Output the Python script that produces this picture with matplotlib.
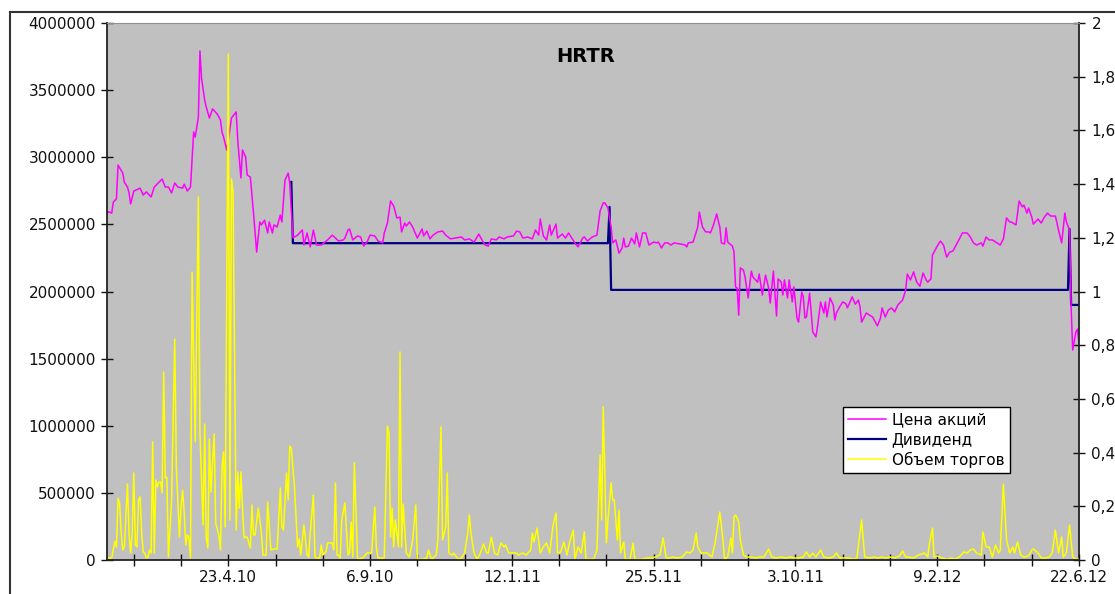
import matplotlib.pyplot as plt
from matplotlib.lines import Line2D
from matplotlib.ticker import FuncFormatter

# торговые дни (номер дня от начала), цена акций (правая ось)
price_day = [0, 1, 3, 4, 6, 7, 10, 11, 13, 14, 15, 17, 21, 23, 25, 28, 30, 35, 37, 39,
             41, 43, 45, 48, 49, 51, 53, 55, 56, 58, 59, 60, 62, 63, 65, 67, 70, 72, 73, 74,
             76, 77, 79, 82, 83, 85, 86, 88, 89, 91, 93, 95, 97, 98, 100, 102, 103, 105, 106, 108,
             110, 111, 113, 115, 116, 118, 121, 124, 125, 127, 129, 131, 133, 136, 140, 143, 147, 150, 151, 153,
             154, 156, 159, 161, 163, 165, 167, 170, 172, 175, 176, 178, 180, 182, 184, 186, 187, 189, 190, 192,
             194, 197, 200, 201, 203, 205, 207, 210, 213, 215, 218, 221, 225, 227, 230, 233, 236, 238, 240, 242,
             244, 247, 249, 252, 254, 258, 260, 262, 264, 267, 270, 272, 274, 275, 277, 279, 281, 282, 285, 286,
             289, 291, 293, 295, 297, 299, 302, 303, 305, 308, 311, 313, 315, 316, 318, 320, 321, 323, 325, 327,
             328, 329, 331, 333, 335, 336, 338, 340, 342, 344, 347, 349, 350, 352, 354, 356, 358, 360, 364, 367,
             368, 369, 372, 373, 375, 376, 378, 380, 382, 383, 385, 387, 389, 390, 392, 393, 394, 397, 398, 399,
             400, 401, 402, 404, 405, 407, 409, 410, 413, 414, 416, 418, 420, 421, 423, 425, 426, 428, 429, 430,
             432, 433, 435, 436, 438, 439, 441, 442, 443, 444, 446, 448, 450, 451, 453, 455, 456, 457, 459, 461,
             462, 463, 465, 467, 469, 470, 473, 475, 477, 478, 479, 482, 484, 486, 489, 491, 492, 494, 496, 498,
             500, 502, 505, 507, 508, 510, 512, 514, 516, 518, 520, 521, 523, 524, 527, 529, 531, 533, 535, 537,
             540, 543, 546, 548, 550, 552, 555, 556, 558, 560, 562, 565, 567, 569, 571, 573, 574, 577, 579, 581,
             582, 584, 585, 587, 588, 591, 593, 595, 597, 599, 602, 604, 606, 608, 609, 611, 612, 613, 615, 616,
             617]
price_val = [1.29, 1.297, 1.292, 1.333, 1.345, 1.471, 1.441, 1.407, 1.389, 1.367, 1.326, 1.374, 1.385, 1.359, 1.371, 1.352, 1.389, 1.419, 1.389, 1.389,
             1.367, 1.404, 1.389, 1.385, 1.40, 1.374, 1.389, 1.594, 1.575, 1.65, 1.896, 1.795, 1.713, 1.687, 1.646, 1.68, 1.661, 1.639, 1.594, 1.575,
             1.527, 1.564, 1.646, 1.669, 1.564, 1.423, 1.527, 1.501, 1.434, 1.426, 1.292, 1.147, 1.259, 1.248, 1.266, 1.218, 1.259, 1.218, 1.248, 1.24,
             1.285, 1.259, 1.415, 1.441, 1.404, 1.20, 1.21, 1.229, 1.173, 1.218, 1.166, 1.229, 1.173, 1.173, 1.192, 1.21, 1.188, 1.192, 1.199, 1.229,
             1.233, 1.192, 1.207, 1.203, 1.169, 1.184, 1.21, 1.207, 1.188, 1.181, 1.218, 1.255, 1.337, 1.318, 1.274, 1.277, 1.222, 1.255, 1.244, 1.259,
             1.24, 1.199, 1.233, 1.207, 1.225, 1.196, 1.21, 1.222, 1.225, 1.21, 1.196, 1.199, 1.203, 1.192, 1.196, 1.184, 1.214, 1.192, 1.173, 1.169,
             1.196, 1.192, 1.203, 1.196, 1.203, 1.207, 1.225, 1.222, 1.199, 1.203, 1.196, 1.229, 1.21, 1.27, 1.207, 1.192, 1.248, 1.21, 1.251, 1.199,
             1.214, 1.199, 1.218, 1.199, 1.181, 1.166, 1.199, 1.203, 1.188, 1.203, 1.21, 1.30, 1.33, 1.33, 1.311, 1.24, 1.181, 1.192, 1.143, 1.162,
             1.199, 1.166, 1.169, 1.199, 1.177, 1.218, 1.166, 1.218, 1.218, 1.173, 1.184, 1.181, 1.184, 1.162, 1.181, 1.181, 1.173, 1.181, 1.177, 1.173,
             1.166, 1.181, 1.184, 1.203, 1.24, 1.296, 1.24, 1.222, 1.222, 1.218, 1.248, 1.289, 1.24, 1.181, 1.177, 1.237, 1.184, 1.169, 1.147, 1.017,
             1.013, 0.912, 1.088, 1.08, 1.054, 0.976, 1.076, 1.054, 1.035, 1.065, 0.987, 1.061, 1.013, 0.957, 1.076, 0.909, 1.047, 1.035, 0.987, 1.043,
             0.976, 1.043, 0.961, 1.017, 0.901, 0.886, 0.998, 0.98, 0.901, 0.905, 0.994, 0.849, 0.831, 0.868, 0.961, 0.92, 0.961, 0.905, 0.976, 0.95,
             0.894, 0.92, 0.942, 0.961, 0.955, 0.939, 0.98, 0.953, 0.968, 0.942, 0.886, 0.92, 0.912, 0.905, 0.872, 0.901, 0.939, 0.905, 0.931, 0.939,
             0.924, 0.95, 0.968, 1.006, 1.065, 1.043, 1.073, 1.035, 1.02, 1.069, 1.043, 1.035, 1.047, 1.136, 1.169, 1.188, 1.173, 1.128, 1.147, 1.151,
             1.184, 1.218, 1.218, 1.203, 1.181, 1.173, 1.181, 1.169, 1.203, 1.192, 1.192, 1.181, 1.173, 1.196, 1.274, 1.259, 1.259, 1.248, 1.337, 1.315,
             1.322, 1.292, 1.311, 1.277, 1.251, 1.27, 1.255, 1.277, 1.292, 1.281, 1.281, 1.229, 1.181, 1.292, 1.259, 1.229, 0.942, 0.782, 0.849, 0.86,
             0.808]

# дивиденд (правая ось), точки изменения
div_day = [117, 118, 318, 319, 320, 610, 611, 612, 617]
div_val = [1.408, 1.18, 1.18, 1.315, 1.006, 1.006, 1.233, 0.95, 0.95]

# объем торгов (левая ось)
vol_day = [0, 1, 3, 5, 6, 7, 8, 9, 10, 11, 13, 14, 15, 16, 17, 18, 19, 20, 21, 22,
           23, 24, 25, 26, 27, 28, 29, 30, 31, 32, 33, 34, 35, 36, 37, 38, 39, 41, 43, 44,
           46, 47, 48, 49, 50, 51, 52, 53, 54, 56, 58, 59, 61, 62, 63, 64, 65, 66, 68, 69,
           71, 72, 73, 74, 75, 77, 78, 79, 80, 82, 83, 84, 85, 86, 87, 88, 89, 91, 92, 93,
           94, 96, 98, 99, 101, 102, 104, 106, 107, 108, 110, 111, 112, 114, 115, 116, 117, 119, 120, 121,
           122, 123, 125, 126, 127, 128, 129, 131, 132, 133, 135, 136, 137, 139, 140, 142, 143, 144, 145, 146,
           147, 148, 149, 151, 152, 153, 154, 155, 156, 157, 159, 160, 162, 163, 165, 166, 168, 170, 171, 172,
           174, 176, 178, 179, 180, 181, 182, 183, 185, 186, 187, 188, 190, 192, 194, 196, 197, 200, 203, 204,
           206, 209, 210, 212, 213, 215, 216, 217, 219, 220, 223, 225, 227, 229, 230, 231, 233, 235, 237, 239,
           241, 242, 244, 246, 248, 250, 252, 253, 255, 257, 260, 261, 264, 266, 269, 270, 271, 273, 275, 277,
           279, 281, 283, 285, 286, 288, 290, 292, 294, 296, 297, 299, 301, 303, 304, 306, 309, 311, 313, 314,
           315, 317, 318, 320, 321, 322, 324, 325, 326, 328, 329, 332, 334, 335, 339, 343, 346, 348, 351, 353,
           355, 357, 359, 362, 365, 368, 370, 372, 374, 375, 377, 379, 381, 384, 386, 388, 389, 391, 392, 394,
           396, 397, 398, 399, 401, 402, 404, 406, 409, 412, 414, 417, 420, 422, 425, 428, 431, 434, 436, 439,
           442, 444, 446, 448, 450, 453, 455, 458, 461, 463, 465, 468, 471, 474, 476, 479, 481, 484, 487, 489,
           492, 494, 497, 500, 503, 505, 507, 509, 512, 515, 519, 521, 522, 524, 525, 527, 530, 533, 536, 538,
           541, 544, 546, 548, 550, 552, 555, 556, 558, 560, 562, 564, 566, 567, 569, 571, 573, 575, 576, 578,
           580, 582, 585, 587, 588, 591, 593, 596, 598, 600, 602, 604, 606, 607, 609, 611, 613, 615, 617]
vol_val = [15000, 15000, 15000, 140000, 95000, 460000, 425000, 200000, 75000, 97000, 566000, 200000, 52000, 200000, 648000, 112000, 97000, 447000, 470000, 200000,
           60000, 52000, 15000, 22000, 75000, 52000, 880000, 52000, 596000, 545000, 581000, 581000, 499000, 1400000, 611000, 618000, 22000, 447000, 1646000, 693000,
           171000, 395000, 521000, 350000, 112000, 186000, 171000, 15000, 2145000, 880000, 2704000, 946000, 261000, 1013000, 164000, 89000, 902000, 506000, 939000, 276000,
           186000, 75000, 685000, 805000, 246000, 3769000, 298000, 2838000, 2741000, 223000, 656000, 387000, 656000, 387000, 164000, 171000, 171000, 89000, 410000, 186000,
           186000, 387000, 201000, 37000, 37000, 432000, 75000, 82000, 82000, 82000, 536000, 246000, 223000, 648000, 447000, 849000, 834000, 544000, 320000, 97000,
           156000, 37000, 261000, 149000, 37000, 22000, 201000, 484000, 22000, 15000, 15000, 112000, 37000, 60000, 127000, 127000, 127000, 75000, 574000, 37000,
           37000, 15000, 298000, 425000, 223000, 37000, 52000, 283000, 22000, 723000, 15000, 7000, 15000, 22000, 52000, 52000, 52000, 395000, 89000, 15000,
           15000, 15000, 998000, 946000, 171000, 387000, 97000, 298000, 97000, 1549000, 97000, 417000, 52000, 22000, 149000, 410000, 5000, 5000, 15000, 75000,
           5000, 37000, 149000, 991000, 149000, 246000, 648000, 52000, 37000, 52000, 5000, 15000, 52000, 201000, 335000, 201000, 52000, 5000, 52000, 119000,
           52000, 52000, 171000, 52000, 37000, 127000, 97000, 112000, 52000, 52000, 52000, 37000, 52000, 37000, 75000, 201000, 134000, 238000, 52000, 97000,
           127000, 52000, 246000, 350000, 52000, 60000, 134000, 37000, 149000, 223000, 5000, 97000, 52000, 209000, 5000, 5000, 7000, 75000, 782000, 298000,
           1140000, 127000, 298000, 574000, 447000, 447000, 149000, 372000, 52000, 134000, 5000, 5000, 127000, 5000, 5000, 15000, 15000, 22000, 37000, 164000,
           15000, 15000, 22000, 15000, 22000, 60000, 52000, 75000, 201000, 97000, 52000, 52000, 52000, 22000, 127000, 283000, 358000, 149000, 5000, 22000,
           164000, 52000, 320000, 335000, 283000, 149000, 37000, 22000, 22000, 15000, 22000, 22000, 82000, 22000, 15000, 22000, 15000, 22000, 15000, 15000,
           22000, 60000, 22000, 52000, 22000, 75000, 22000, 15000, 22000, 52000, 15000, 15000, 15000, 5000, 15000, 298000, 22000, 15000, 22000, 15000,
           22000, 15000, 22000, 15000, 30000, 67000, 22000, 22000, 15000, 37000, 52000, 22000, 119000, 238000, 22000, 30000, 15000, 5000, 15000, 5000,
           22000, 60000, 52000, 75000, 82000, 52000, 37000, 209000, 97000, 97000, 22000, 112000, 52000, 75000, 566000, 149000, 52000, 97000, 52000, 134000,
           37000, 22000, 30000, 75000, 82000, 52000, 15000, 15000, 22000, 52000, 223000, 52000, 171000, 22000, 52000, 261000, 22000, 5000, 5000]

# подписи оси X
tick_days = list(range(17, 618, 30))
label_days = [77, 167, 257, 347, 437, 527, 617]
label_text = ['23.4.10', '6.9.10', '12.1.11', '25.5.11', '3.10.11', '9.2.12', '22.6.12']

W, H = 1115, 594
fig = plt.figure(figsize=(W / 100, H / 100), dpi=100)
fig.patch.set_facecolor('white')

ax = fig.add_axes([107 / W, 34 / H, 972 / W, 537 / H])
ax2 = ax.twinx()
# объем поверх цены
ax.set_zorder(ax2.get_zorder() + 1)
ax.patch.set_visible(False)
ax2.patch.set_visible(True)
ax2.set_facecolor('#c0c0c0')

l_div, = ax2.plot(div_day, div_val, color='#000080', lw=1.6)
l_price, = ax2.plot(price_day, price_val, color='#ff00ff', lw=1.1)
l_vol, = ax.plot(vol_day, vol_val, color='#ffff00', lw=1.1)

ax.set_xlim(0, 617)
ax.set_ylim(0, 4000000)
ax2.set_ylim(0, 2)

ax.set_yticks(range(0, 4000001, 500000))
ax.yaxis.set_major_formatter(FuncFormatter(lambda v, p: '%d' % v))
ax2.set_yticks([i * 0.2 for i in range(11)])
ax2.yaxis.set_major_formatter(FuncFormatter(lambda v, p: ('%g' % round(v, 1)).replace('.', ',')))

ax.set_xticks(tick_days)
ax.set_xticklabels([label_text[label_days.index(d)] if d in label_days else '' for d in tick_days])

ax.tick_params(axis='x', direction='inout', length=8, width=1, pad=3, labelsize=11, colors='#111111')
ax.tick_params(axis='y', direction='inout', length=8, width=1, pad=4, labelsize=11, colors='#111111')
ax2.tick_params(axis='y', direction='inout', length=8, width=1, pad=5, labelsize=11, colors='#111111')

for s in ['left', 'bottom']:
    ax.spines[s].set_color('#222222')
    ax.spines[s].set_linewidth(1.3)
ax.spines['top'].set_color('#909090')
ax.spines['right'].set_visible(False)
for s in ['left', 'bottom', 'top']:
    ax2.spines[s].set_visible(False)
ax2.spines['right'].set_color('#222222')
ax2.spines['right'].set_linewidth(1.3)

ax.text(0.492, 0.937, 'HRTR', transform=ax.transAxes, ha='center', va='center',
        fontsize=14, fontweight='bold')

leg = ax.legend([l_price, l_div, l_vol], ['Цена акций', 'Дивиденд', 'Объем торгов'],
                loc='upper left', bbox_to_anchor=(0.757, 0.285), borderaxespad=0,
                fancybox=False, framealpha=1, edgecolor='black', fontsize=11,
                handlelength=2.5, handletextpad=0.35, labelspacing=0.3, borderpad=0.35)
leg.get_frame().set_linewidth(1)

# рамка области диаграммы
fig.add_artist(Line2D([10 / W, 10 / W], [0, 1 - 12 / H], transform=fig.transFigure, color='#333333', lw=1.5))
fig.add_artist(Line2D([10 / W, 1], [1 - 12 / H, 1 - 12 / H], transform=fig.transFigure, color='#333333', lw=1.5))

fig.savefig('out.png', dpi=100)
